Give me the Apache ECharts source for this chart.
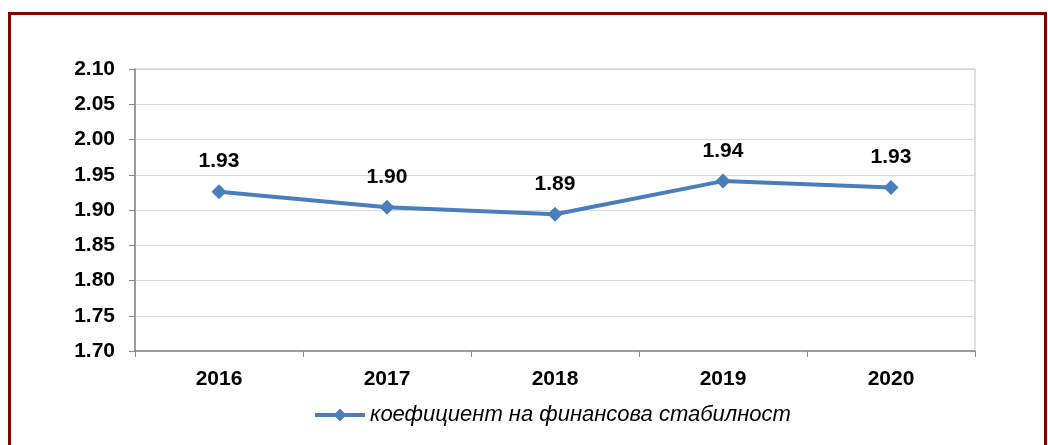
<!DOCTYPE html>
<html>
<head>
<meta charset="utf-8">
<script src="https://cdn.jsdelivr.net/npm/echarts@6/dist/echarts.min.js"></script>
<style>
  html, body { margin: 0; padding: 0; background: #fff; }
  #chart { width: 1048px; height: 445px; }
  #frame {
    position: absolute; left: 8px; top: 12px; width: 1033px; height: 450px;
    border: 3px solid #800000; pointer-events: none;
  }
</style>
</head>
<body>
<div id="chart"></div>
<div id="frame"></div>
<script>
const years = ["2016", "2017", "2018", "2019", "2020"];
const stability = [1.926, 1.904, 1.894, 1.941, 1.932];
const seriesName = "коефициент на финансова стабилност";

const chart = echarts.init(document.getElementById("chart"), null, { renderer: "canvas" });

chart.setOption({
  backgroundColor: "transparent",
  animation: false,
  textStyle: { fontFamily: "Liberation Sans, Arial, sans-serif" },
  grid: {
    left: 135, top: 69, width: 840, height: 282,
    show: true, borderColor: "#c0c0c0", borderWidth: 1
  },
  legend: {
    left: 308, top: 399,
    itemWidth: 50, itemHeight: 16, itemGap: 6,
    lineStyle: { width: 4 },
    textStyle: { fontSize: 22, fontStyle: "italic", color: "#000" },
    data: [seriesName]
  },
  xAxis: {
    type: "category",
    data: years,
    boundaryGap: true,
    axisLine: { lineStyle: { color: "#868686", width: 1.5 } },
    axisTick: { show: true, length: 6, lineStyle: { color: "#868686" } },
    axisLabel: { fontSize: 21, fontWeight: "bold", color: "#000", margin: 18 }
  },
  yAxis: {
    type: "value",
    min: 1.70, max: 2.10, interval: 0.05,
    axisLine: { show: true, lineStyle: { color: "#868686", width: 1.5 } },
    axisTick: { show: true, length: 6, lineStyle: { color: "#868686" } },
    splitLine: { lineStyle: { color: "#d9d9d9", width: 1 } },
    axisLabel: {
      fontSize: 21, fontWeight: "bold", color: "#000", margin: 20,
      formatter: (v) => v.toFixed(2)
    }
  },
  series: [{
    name: seriesName,
    type: "line",
    data: stability,
    symbol: "diamond",
    symbolSize: 15,
    lineStyle: { color: "#4a7ebb", width: 4 },
    itemStyle: { color: "#4a7ebb" },
    label: {
      show: true, position: "top", distance: 12,
      fontSize: 21, fontWeight: "bold", color: "#000",
      formatter: (p) => p.value.toFixed(2)
    }
  }]
});
</script>
</body>
</html>
